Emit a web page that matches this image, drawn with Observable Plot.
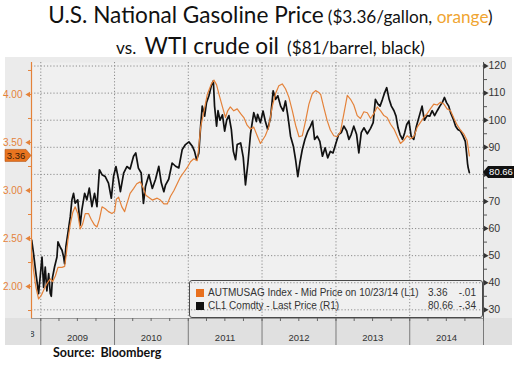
<!DOCTYPE html>
<html><head><meta charset="utf-8">
<script src="https://cdn.jsdelivr.net/npm/d3@7"></script>
<script src="https://cdn.jsdelivr.net/npm/@observablehq/plot@0.6"></script>
<style>
body{margin:0;width:519px;height:368px;position:relative;overflow:hidden;background:#fff;font-family:Lato,"Open Sans",sans-serif;color:#111}
.tl{position:absolute;left:0;width:519px;text-align:center;white-space:nowrap;padding-left:22px;box-sizing:border-box}
.big{font-size:22.6px}
.sm{font-size:17.2px}
#panel{position:absolute;left:5px;top:57px;width:507px;height:288px;background:#ebebeb}
#band{position:absolute;left:5px;top:318px;width:507px;height:27px;background:#e0e0e0}
#chart{position:absolute;left:0;top:57px;width:519px;height:290px}
#chart svg{position:absolute;left:0;top:0}
#legend{position:absolute;left:189px;top:280px;width:292px;height:36px;border:1px solid #4a4a4a;border-radius:3px;font-family:"Liberation Sans",Arial,sans-serif;font-size:10px;color:#333}
#legend span{position:absolute;line-height:12px;white-space:nowrap}
#legend .sq{width:8px;height:8px}
#source{position:absolute;left:53px;top:346px;font-size:12.5px;line-height:13px;font-weight:bold;color:#111}
</style></head>
<body>
<div class="tl" style="top:-1px;line-height:32px"><span class="big">U.S. National Gasoline Price</span> <span class="sm">($3.36/gallon, <span style="color:#f0a532">orange</span>)</span></div>
<div class="tl" style="top:30px;line-height:32px"><span class="sm">vs.</span>&nbsp;&nbsp;<span class="big">WTI crude oil</span>&nbsp;&nbsp;<span class="sm">($81/barrel, black)</span></div>
<div id="panel"></div>
<div id="band"></div>
<div id="chart"></div>
<div id="legend">
  <span class="sq" style="left:6px;top:8px;background:#e8701e"></span>
  <span style="left:18px;top:6px">AUTMUSAG Index - Mid Price on 10/23/14 (L1)</span>
  <span id="lg1" style="left:238px;top:6px"></span>
  <span style="right:6px;top:6px">-.01</span>
  <span class="sq" style="left:6px;top:21px;background:#111"></span>
  <span style="left:18px;top:19px">CL1 Comdty - Last Price (R1)</span>
  <span id="lg2" style="left:238px;top:19px"></span>
  <span style="right:6px;top:19px">-.34</span>
</div>
<div id="source">Source:&nbsp; Bloomberg</div>
<script>
// WTI crude oil, $/barrel (black, right axis)
const wtiDates = ["2008-11-17","2008-11-26","2008-12-08","2008-12-21","2008-12-30","2009-01-07","2009-01-15","2009-01-23","2009-01-31","2009-02-09","2009-02-17","2009-02-22","2009-02-28","2009-03-10","2009-03-22","2009-03-27","2009-04-08","2009-04-16","2009-04-24","2009-04-29","2009-05-05","2009-05-15","2009-05-27","2009-06-04","2009-06-12","2009-06-20","2009-07-03","2009-07-15","2009-07-23","2009-08-06","2009-08-17","2009-08-29","2009-09-11","2009-09-24","2009-10-06","2009-10-18","2009-10-31","2009-11-16","2009-12-02","2009-12-16","2009-12-27","2010-01-08","2010-01-21","2010-01-30","2010-02-15","2010-03-03","2010-03-19","2010-04-05","2010-04-16","2010-04-29","2010-05-13","2010-05-24","2010-06-03","2010-06-20","2010-07-07","2010-07-23","2010-08-08","2010-08-20","2010-09-02","2010-09-10","2010-09-26","2010-10-13","2010-10-30","2010-11-15","2010-12-02","2010-12-18","2011-01-04","2011-01-21","2011-02-01","2011-02-11","2011-02-22","2011-03-03","2011-03-11","2011-03-23","2011-04-01","2011-04-13","2011-04-25","2011-05-05","2011-05-11","2011-05-21","2011-05-28","2011-06-07","2011-06-19","2011-06-30","2011-07-10","2011-07-21","2011-08-02","2011-08-12","2011-08-23","2011-08-31","2011-09-17","2011-09-30","2011-10-11","2011-10-23","2011-11-05","2011-11-21","2011-12-04","2011-12-10","2011-12-24","2012-01-06","2012-01-17","2012-01-29","2012-02-12","2012-02-25","2012-03-08","2012-03-19","2012-04-02","2012-04-15","2012-04-26","2012-05-08","2012-05-21","2012-06-04","2012-06-15","2012-06-26","2012-07-06","2012-07-18","2012-07-31","2012-08-15","2012-08-28","2012-09-07","2012-09-17","2012-09-30","2012-10-13","2012-10-26","2012-11-08","2012-11-21","2012-12-04","2012-12-17","2013-01-01","2013-01-14","2013-01-27","2013-02-09","2013-02-23","2013-03-06","2013-03-17","2013-03-30","2013-04-13","2013-04-24","2013-05-06","2013-05-19","2013-06-05","2013-06-21","2013-07-04","2013-07-15","2013-07-27","2013-08-07","2013-08-19","2013-08-30","2013-09-09","2013-09-21","2013-10-02","2013-10-15","2013-10-25","2013-11-04","2013-11-14","2013-11-26","2013-12-07","2013-12-17","2013-12-28","2014-01-08","2014-01-21","2014-02-03","2014-02-17","2014-03-03","2014-03-14","2014-03-28","2014-04-10","2014-04-22","2014-05-04","2014-05-17","2014-05-30","2014-06-11","2014-06-22","2014-07-02","2014-07-13","2014-07-22","2014-08-05","2014-08-16","2014-08-27","2014-09-09","2014-09-22","2014-10-03","2014-10-09","2014-10-14","2014-10-17","2014-10-23"];
const wtiPrice = [55.7,50.8,43.4,36,43,49.5,38.3,45.8,37,43.4,36,35,42,45.8,49.5,55.1,53,52,49.5,47,53.2,58.2,64.4,70.6,73,69.4,70.6,61.3,66.8,73,70.6,74.9,68.1,73,68.1,81.7,79.9,79.2,76.8,71.2,79.2,82.9,78,73.6,80.5,82.9,82,86.7,87.9,82.3,80.5,69.3,75.5,79.9,74.8,78.2,83,77,73.6,76,78.2,84.2,83,82.4,89.2,91,92,90.4,88.5,85.4,87.8,97.8,105.2,101.5,106.5,109,112.7,114.5,105.2,97.8,103.5,100,102,96,100,101.7,96.6,88.5,85.4,91,91.6,86.3,76.1,84.1,95,102.8,99.5,102.2,99.1,103.4,99.7,96.6,100.9,110.8,107.7,109,105.2,103.4,107.1,101.5,94.1,90.4,85.4,79.2,84.2,89.1,92.9,96,97.8,99.7,92.9,94.1,92.2,86.7,89.8,86.1,88.5,87.9,91.6,94.7,95.4,97.8,96,92.9,94.7,97.8,94.7,87.9,95.4,97.2,95,97,99.1,107.7,106,105.2,107.7,110.2,112,107.7,105.2,103.5,101.5,97.2,94.7,92.9,95.4,98.4,99.7,94.1,92.9,97.8,101.5,105.2,100,101.7,101.5,103.5,101.7,103.5,105.2,106.5,108.4,106.5,105.2,102.8,100.3,97.8,96.6,96,94.1,92.2,88,84,82.5,80.66];

// U.S. national gasoline price, $/gallon (orange, left axis)
const gasDates = ["2008-11-17","2008-11-26","2008-12-08","2008-12-21","2009-01-04","2009-01-15","2009-01-31","2009-02-17","2009-02-28","2009-03-14","2009-03-27","2009-04-16","2009-04-29","2009-05-05","2009-05-15","2009-05-27","2009-06-08","2009-06-20","2009-07-03","2009-07-15","2009-07-27","2009-08-09","2009-08-25","2009-09-07","2009-09-24","2009-10-06","2009-10-18","2009-10-31","2009-11-16","2009-12-02","2009-12-19","2010-01-01","2010-01-10","2010-01-21","2010-02-06","2010-02-20","2010-03-03","2010-03-19","2010-04-05","2010-04-21","2010-05-08","2010-05-24","2010-06-05","2010-07-07","2010-07-31","2010-08-16","2010-09-02","2010-09-19","2010-10-05","2010-10-22","2010-11-07","2010-11-23","2010-12-10","2010-12-27","2011-01-12","2011-01-28","2011-02-14","2011-02-22","2011-03-03","2011-03-20","2011-04-05","2011-04-25","2011-05-08","2011-05-21","2011-06-02","2011-06-19","2011-07-04","2011-07-15","2011-07-28","2011-08-14","2011-08-31","2011-09-17","2011-10-03","2011-10-19","2011-11-05","2011-11-21","2011-12-08","2011-12-24","2012-01-17","2012-02-03","2012-02-20","2012-03-08","2012-03-24","2012-04-10","2012-04-26","2012-05-13","2012-05-30","2012-06-15","2012-07-02","2012-07-18","2012-08-04","2012-08-20","2012-09-06","2012-09-22","2012-10-08","2012-10-17","2012-11-01","2012-11-18","2012-12-04","2012-12-21","2013-01-07","2013-01-23","2013-02-09","2013-02-26","2013-03-14","2013-03-30","2013-04-16","2013-05-02","2013-05-19","2013-06-05","2013-06-21","2013-07-07","2013-07-24","2013-08-10","2013-08-26","2013-09-11","2013-09-28","2013-10-15","2013-11-01","2013-11-16","2013-12-02","2013-12-19","2014-01-05","2014-01-21","2014-02-07","2014-02-23","2014-03-11","2014-03-28","2014-04-13","2014-04-30","2014-05-17","2014-06-02","2014-06-19","2014-07-05","2014-07-22","2014-08-08","2014-08-24","2014-09-09","2014-09-25","2014-10-12","2014-10-23"];
const gasPrice = [2.35,2.17,1.99,1.87,1.91,1.96,2.03,2.08,2.05,2.11,2.2,2.2,2.21,2.3,2.48,2.65,2.77,2.83,2.76,2.6,2.65,2.76,2.76,2.7,2.64,2.62,2.7,2.83,2.81,2.78,2.76,2.78,2.91,2.93,2.83,2.78,2.86,2.97,3.02,3.07,3.09,3.02,2.95,2.9,2.92,2.9,2.86,2.86,2.94,3.0,3.07,3.14,3.19,3.24,3.30,3.33,3.31,3.45,3.66,3.83,4.0,4.11,4.15,4.1,4.0,3.87,3.76,3.83,3.87,3.83,3.85,3.8,3.76,3.68,3.64,3.66,3.57,3.49,3.57,3.66,3.87,4.01,4.09,4.11,4.06,3.97,3.83,3.68,3.56,3.57,3.73,3.9,4.01,4.04,4.02,4.0,3.87,3.73,3.63,3.57,3.56,3.61,3.8,3.99,3.95,3.89,3.78,3.75,3.82,3.81,3.75,3.8,3.87,3.83,3.78,3.76,3.69,3.64,3.56,3.49,3.52,3.57,3.54,3.56,3.66,3.71,3.76,3.8,3.85,3.9,3.89,3.92,3.9,3.85,3.83,3.75,3.68,3.63,3.59,3.52,3.36];

const leftTicks = [2.00, 2.50, 3.00, 3.50, 4.00];
const leftMinor = [1.75, 2.00, 2.25, 2.50, 2.75, 3.00, 3.25, 3.50, 3.75, 4.00, 4.25];
const rightTicks = [30, 40, 50, 60, 70, 80, 90, 100, 110, 120];
const rightLabels = [30, 40, 50, 60, 70, 90, 100, 110, 120]; // 80 sits under the 80.66 tag
const rightMinor = [30, 35, 40, 45, 50, 55, 60, 65, 70, 75, 80, 85, 90, 95, 100, 105, 110, 115, 120];
const yearLabels = ["2009", "2010", "2011", "2012", "2013", "2014"];
const yearEdges = ["2009-01-01","2010-01-01","2011-01-01","2012-01-01","2013-01-01","2014-01-01","2015-01-01"];
const xDomain = ["2008-11-16", "2015-01-01"];
const gasDomain = [1.667, 4.333];
const wtiDomain = [26.8, 121.3];

const P = d => new Date(d + "T00:00:00Z");
const wti = wtiDates.map((d, i) => ({date: P(d), value: wtiPrice[i]}));
const gas = gasDates.map((d, i) => ({date: P(d), value: gasPrice[i]}));
const xd = xDomain.map(P);
const edges = yearEdges.map(P);
const mids = yearLabels.map(y => P(y + "-07-02"));
const quarters = d3.utcMonth.every(3).range(P("2009-01-01"), P("2015-01-02"));
const ORANGE = "#e4823a";
const GRID = {stroke: "#8c8c8c", strokeOpacity: 1, strokeDasharray: "1.2,2"};

const common = {
  width: 519, height: 290, marginTop: 5, marginBottom: 29, marginLeft: 31, marginRight: 36,
  style: {background: "transparent", fontFamily: "'Liberation Sans', Arial, sans-serif", overflow: "visible"}
};

const plotA = Plot.plot({
  ...common,
  x: {type: "utc", domain: xd},
  y: {domain: wtiDomain},
  marks: [
    Plot.frame({fill: "#f0f0f0", stroke: null}),
    Plot.gridY(rightTicks, GRID),
    Plot.gridX(edges.slice(0, 6), GRID),
    Plot.lineY(wti, {x: "date", y: "value", stroke: "#111", strokeWidth: 1.7}),
    Plot.ruleY([wtiDomain[0]], {stroke: "#9a9a9a"}),
    Plot.ruleX([xd[1]], {stroke: "#555"}),
    Plot.axisY(rightMinor, {anchor: "right", tickSize: 3, tickFormat: () => "", color: "#555", label: null}),
    Plot.axisY(rightLabels, {anchor: "right", tickSize: 0, tickPadding: 5, color: "#333", fontSize: 10.5, label: null}),
    Plot.dot(rightTicks, {x: () => xd[1], y: d => d, symbol: "triangle", rotate: 90, r: 2, fill: "#333", dx: 2}),
    Plot.axisX(edges, {tickSize: 27, tickFormat: () => "", stroke: "#7a7a7a", label: null}),
    Plot.axisX(quarters, {tickSize: 3, tickFormat: () => "", stroke: "#666", label: null}),
    Plot.axisX(mids, {tickSize: 0, tickPadding: 16, tickFormat: d3.utcFormat("%Y"), color: "#333", fontSize: 9.5, label: null})
  ]
});

const plotB = Plot.plot({
  ...common,
  x: {type: "utc", domain: xd, axis: null},
  y: {domain: gasDomain},
  marks: [
    Plot.lineY(gas, {x: "date", y: "value", stroke: ORANGE, strokeWidth: 1.2}),
    Plot.ruleX([xd[0]], {stroke: ORANGE, strokeWidth: 1.2}),
    Plot.axisY(leftMinor, {anchor: "left", tickSize: 3, tickFormat: () => "", stroke: ORANGE, label: null}),
    Plot.axisY(leftTicks, {anchor: "left", tickSize: 0, tickPadding: 9, tickFormat: d3.format(".2f"), color: ORANGE, fontSize: 10, label: null}),
    Plot.dot(leftTicks, {x: () => xd[0], y: d => d, symbol: "triangle", rotate: -90, r: 2, fill: ORANGE, dx: -3})
  ]
});

document.getElementById("chart").append(plotA, plotB);

// value tags at the axes, placed with the plots' own scales
const lastWti = wtiPrice[wtiPrice.length - 1];
const lastGas = gasPrice[gasPrice.length - 1];
{
  const x = plotA.scale("x").apply(xd[1]);
  const y = plotA.scale("y").apply(lastWti);
  const g = d3.select(plotA).append("g");
  g.append("path").attr("d", `M${x},${y}L${x + 5},${y - 6}L${x + 31},${y - 6}L${x + 31},${y + 6}L${x + 5},${y + 6}Z`).attr("fill", "#111");
  g.append("text").attr("x", x + 18).attr("y", y).attr("dy", "0.35em").attr("text-anchor", "middle")
    .attr("fill", "#fff").attr("font-size", 9.5).text(d3.format(".2f")(lastWti));
  // clipped 2008 label at the far left of the date band
  const x0 = plotA.scale("x").apply(xd[0]);
  const yb = plotA.scale("y").apply(wtiDomain[0]);
  d3.select(plotA).append("defs").append("clipPath").attr("id", "clip08")
    .append("rect").attr("x", x0).attr("y", yb).attr("width", 9).attr("height", 28);
  d3.select(plotA).append("text").attr("clip-path", "url(#clip08)").attr("x", x0 + 3.5).attr("y", yb + 16)
    .attr("dy", "0.35em").attr("text-anchor", "end").attr("fill", "#333").attr("font-size", 9.5).text("2008");
}
{
  const x = plotB.scale("x").apply(xd[0]);
  const y = plotB.scale("y").apply(lastGas);
  const g = d3.select(plotB).append("g");
  g.append("path").attr("d", `M${x},${y}L${x - 5},${y - 6}L${x - 26},${y - 6}L${x - 26},${y + 6}L${x - 5},${y + 6}Z`)
    .attr("fill", "#e8741f").attr("stroke", "#b4561a").attr("stroke-width", 0.6);
  g.append("text").attr("x", x - 15).attr("y", y).attr("dy", "0.35em").attr("text-anchor", "middle")
    .attr("fill", "#3a1a06").attr("font-size", 9.5).text(d3.format(".2f")(lastGas));
}
document.getElementById("lg1").textContent = d3.format(".2f")(lastGas);
document.getElementById("lg2").textContent = d3.format(".2f")(lastWti);
</script>
</body></html>
